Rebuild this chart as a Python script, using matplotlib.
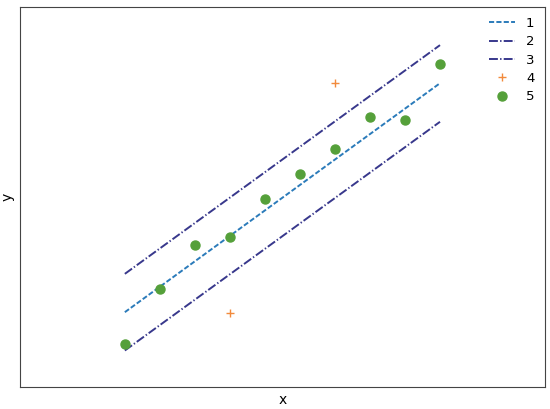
import numpy as np
import matplotlib
matplotlib.use("Agg")
import matplotlib.pyplot as plt

# fitted lines (two end points each)
x_line = [0, 9]
line_fit = [-0.04, 8.98]
line_upper = [1.47, 10.48]
line_lower = [-1.55, 7.46]

# outliers
x_out = [6, 3]
y_out = [8.98, -0.06]

# inliers
x_in = [0, 1, 2, 3, 4, 5, 6, 7, 8, 9]
y_in = [-1.28, 0.87, 2.60, 2.91, 4.43, 5.39, 6.39, 7.64, 7.54, 9.74]

plt.rcParams["lines.scale_dashes"] = False

fig = plt.figure(figsize=(5.5, 4.09), dpi=100)
ax = fig.add_axes([0.036, 0.053, 0.955, 0.931])

ax.plot(x_line, line_fit, color="#2b7bba", lw=1.4, dashes=(3.7, 1.6), label="1")
ax.plot(x_line, line_upper, color="#38388c", lw=1.4, dashes=(6.4, 1.6, 1.0, 1.6), label="2")
ax.plot(x_line, line_lower, color="#38388c", lw=1.4, dashes=(6.4, 1.6, 1.0, 1.6), label="3")
ax.plot(x_out, y_out, "+", color="#f28a3c", ms=6, ls="none", label="4")
ax.plot(x_in, y_in, "o", color="#55a03a", ms=6.5, ls="none", label="5")

ax.set_xlim(-3, 12)
ax.set_ylim(-3, 12)
ax.set_xticks([])
ax.set_yticks([])
ax.set_xlabel("x", labelpad=4)
ax.set_ylabel("y", labelpad=4)
for s in ax.spines.values():
    s.set_color("#444444")

ax.legend(loc="upper right", frameon=False, fontsize=9.5, labelspacing=0.4,
          handlelength=2.0, borderaxespad=0.4)

fig.savefig("out.png", dpi=100)
